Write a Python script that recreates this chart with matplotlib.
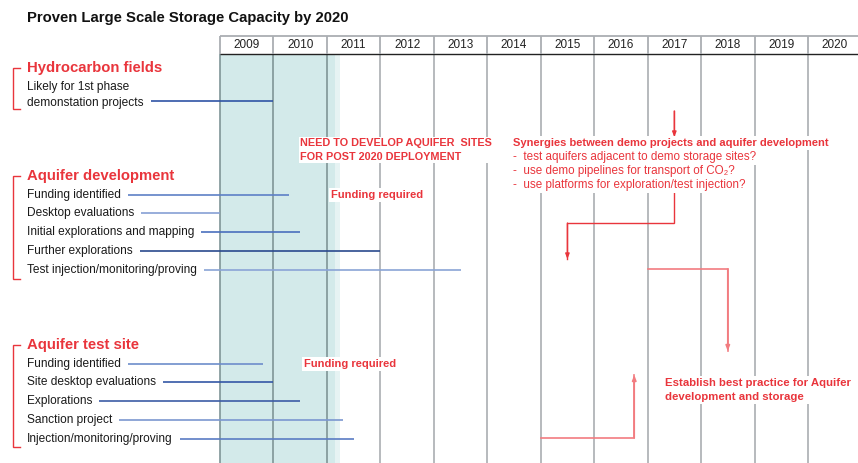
import matplotlib
matplotlib.use("Agg")
import matplotlib.pyplot as plt
from matplotlib.patches import Rectangle
import matplotlib.transforms as mtransforms

plt.rcParams['font.family'] = ['Liberation Sans', 'DejaVu Sans']

# ---------------- data ----------------
years = list(range(2009, 2021))
year_labels = [str(y) for y in years]

title = "Proven Large Scale Storage Capacity by 2020"
sections = ["Hydrocarbon fields", "Aquifer development", "Aquifer test site"]

hydro_tasks = ["Likely for 1st phase\ndemonstation projects"]
hydro_end = [2010.0]

dev_tasks = ["Funding identified", "Desktop evaluations",
             "Initial explorations and mapping", "Further explorations",
             "Test injection/monitoring/proving"]
dev_end = [2010.3, 2009.0, 2010.5, 2012.0, 2013.5]

test_tasks = ["Funding identified", "Site desktop evaluations", "Explorations",
              "Sanction project", "Injection/monitoring/proving"]
test_end = [2009.8, 2010.0, 2010.5, 2011.3, 2011.5]

shaded_start = 2009.0
shaded_end = 2011.15
shaded_fade = 2011.25

need_text = "NEED TO DEVELOP AQUIFER  SITES\nFOR POST 2020 DEPLOYMENT"
funding_text = "Funding required"
syn_title = "Synergies between demo projects and aquifer development"
syn_items = ["-  test aquifers adjacent to demo storage sites?",
             "-  use demo pipelines for transport of CO\u2082?",
             "-  use platforms for exploration/test injection?"]
best_text = "Establish best practice for Aquifer\ndevelopment and storage"

# arrow paths (year, row)
arrow_paths = [
    ([2017.5, 2017.5], [111, 137]),
    ([2017.5, 2017.5, 2015.5, 2015.5], [192, 223, 223, 259]),
]
arrow_paths_light = [
    ([2017.0, 2018.5, 2018.5], [269, 269, 351]),
    ([2015.0, 2016.75, 2016.75], [438, 438, 375]),
]

# ---------------- style / layout ----------------
W, H = 858, 463
COL = 53.45
X0 = 2009 - 220 / COL
X1 = 2009 + (W - 220) / COL
RED = "#e9353c"
RED_L = "#f27c80"
GRAY = "#aaaeb2"
DARK = "#7f9597"
TEAL = "#d3eaea"
TEAL_L = "#e6f3f3"

dev_colors = ["#5d80c6", "#86a0d4", "#4a6fbd", "#2a4a8e", "#8aa4d6"]
test_colors = ["#6d8dcb", "#3457a6", "#3c5ca6", "#7b97d0", "#5a7cc3"]

fig = plt.figure(figsize=(W / 100, H / 100), dpi=100)
ax = fig.add_axes([0, 0, 1, 1])
ax.set_xlim(X0, X1)
ax.set_ylim(H, 0)
ax.axis("off")

LX = 27 / W  # label x in axes fraction
blend = mtransforms.blended_transform_factory(ax.transAxes, ax.transData)

# title
ax.text(LX, 18, title, transform=blend, fontsize=10.7, fontweight="bold",
        va="center", ha="left", color="#111111")

# shaded band
ax.add_patch(Rectangle((shaded_start, 54), shaded_end - shaded_start, H - 54,
                       facecolor=TEAL, edgecolor="none", zorder=0))
ax.add_patch(Rectangle((shaded_end, 54), shaded_fade - shaded_end, H - 54,
                       facecolor=TEAL_L, edgecolor="none", zorder=0))

# header
ax.hlines(36, 2009, X1, color=GRAY, lw=1.3, zorder=2)
ax.hlines(54, 2009, X1, color="#222222", lw=1.0, zorder=2)
ax.vlines(years, 36, 54, color=GRAY, lw=1.3, zorder=2)
for y, lab in zip(years, year_labels):
    ax.text(y + 0.5, 45.5, lab, ha="center", va="center", fontsize=8.5,
            color="#222222")

# body grid lines
body_cols = [DARK if y < shaded_end else GRAY for y in years]
ax.vlines(years, 54, H, colors=body_cols, lw=1.2, zorder=1)

# section headings + brackets
sec_y = [68, 176, 345]
sec_bottom = [109, 279, 447]
for name, y0, y1 in zip(sections, sec_y, sec_bottom):
    ax.text(LX, y0, name, transform=blend, fontsize=10.7, fontweight="bold",
            color=RED, va="center", ha="left")
    bx0 = X0 + 13 / COL
    bx1 = X0 + 20 / COL
    ax.plot([bx1, bx0, bx0, bx1], [y0, y0, y1, y1], color=RED, lw=1.0,
            solid_joinstyle="miter")

# tasks
rows = []
rows.append((hydro_tasks[0], 95, 101, hydro_end[0], "#2f54a5"))
dev_y = [195, 213, 232, 251, 270]
for t, y, e, c in zip(dev_tasks, dev_y, dev_end, dev_colors):
    rows.append((t, y, y, e, c))
test_y = [364, 382, 401, 420, 439]
for t, y, e, c in zip(test_tasks, test_y, test_end, test_colors):
    rows.append((t, y, y, e, c))

label_objs = []
for t, ty, ly, e, c in rows:
    txt = ax.text(LX, ty, t, transform=blend, fontsize=8.6, va="center",
                  ha="left", color="#1a1a1a", linespacing=1.35)
    label_objs.append((txt, ly, e, c))

fig.canvas.draw()
renderer = fig.canvas.get_renderer()
inv = ax.transData.inverted()
for txt, ly, e, c in label_objs:
    bb = txt.get_window_extent(renderer)
    xs = inv.transform((bb.x1 + 7, 0))[0]
    ax.plot([xs, e], [ly, ly], color=c, lw=1.2, zorder=3,
            solid_capstyle="butt")

# red annotations
box = dict(facecolor="white", edgecolor="none", pad=1.5)
need = ax.text(2010.5, 150, need_text, fontsize=7.8, fontweight="bold",
               color=RED, va="center", ha="left", linespacing=1.5, zorder=6,
               bbox=dict(facecolor="white", edgecolor="none", pad=1.0))
ax.text(2011.08, 195, funding_text, fontsize=8, fontweight="bold", color=RED,
        va="center", ha="left", zorder=6, bbox=box)
ax.text(2010.57, 364, funding_text, fontsize=8, fontweight="bold", color=RED,
        va="center", ha="left", zorder=6, bbox=box)

ax.text(2014.48, 143, syn_title, fontsize=8, fontweight="bold", color=RED,
        va="center", ha="left", zorder=6, bbox=box)
for i, s in enumerate(syn_items):
    ax.text(2014.48, 157 + 14 * i, s, fontsize=8.4, color=RED,
            va="center", ha="left", zorder=6, bbox=box)

ax.text(2017.33, 390, best_text, fontsize=8.2, fontweight="bold", color=RED,
        va="center", ha="left", linespacing=1.4, zorder=6, bbox=box)

# restore teal behind the NEED text where it overlaps the band
fig.canvas.draw()
pb = need.get_bbox_patch().get_window_extent(renderer)
(bx_0, by_0), (bx_1, by_1) = inv.transform([(pb.x0, pb.y0), (pb.x1, pb.y1)])
ax.add_patch(Rectangle((bx_0, by_1), shaded_end - bx_0, by_0 - by_1,
                       facecolor=TEAL, edgecolor="none", zorder=6.5))
ax.add_patch(Rectangle((shaded_end, by_1), shaded_fade - shaded_end,
                       by_0 - by_1, facecolor=TEAL_L, edgecolor="none",
                       zorder=6.5))
need.set_zorder(7)

# arrows
def draw_path(xs, ys, color, lw):
    ax.plot(xs, ys, color=color, lw=lw, zorder=5, solid_joinstyle="miter")
    ax.annotate("", xy=(xs[-1], ys[-1]), xytext=(xs[-2], ys[-2]),
                arrowprops=dict(arrowstyle="-|>,head_length=0.3,head_width=0.12",
                                color=color, lw=lw, shrinkA=0, shrinkB=0),
                zorder=5)

for xs, ys in arrow_paths:
    draw_path(xs, ys, RED, 1.0)
for xs, ys in arrow_paths_light:
    draw_path(xs, ys, RED_L, 1.2)

fig.savefig("out.png", dpi=100)
